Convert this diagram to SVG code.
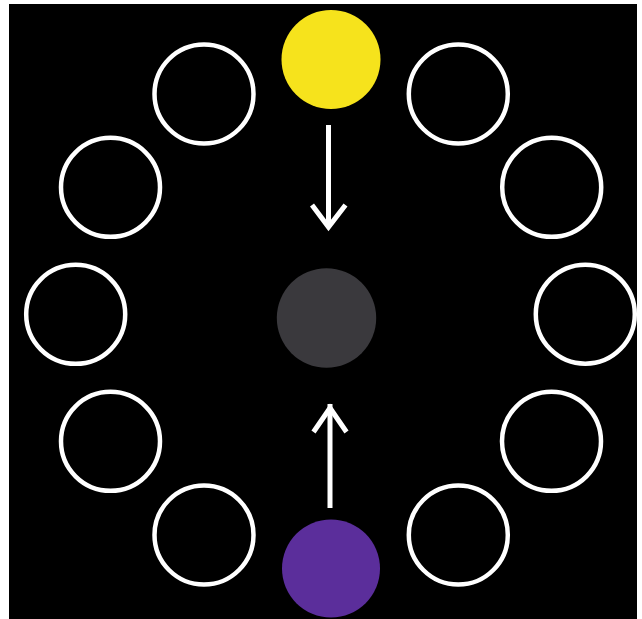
<svg xmlns="http://www.w3.org/2000/svg" width="642" height="619" viewBox="0 0 642 619">
  <style>
    .ring { fill: none; stroke: #ffffff; stroke-width: 4.5; }
    .conn { fill: none; stroke: #ffffff; stroke-width: 5; stroke-linecap: butt; }
    .head { fill: none; stroke: #ffffff; stroke-width: 5; stroke-linejoin: miter; }
  </style>
  <rect x="0" y="0" width="642" height="619" fill="#ffffff"/>
  <rect x="9" y="4" width="628" height="615" fill="#000000"/>

  <g id="ring-top-left"><circle class="ring" cx="204" cy="94" r="49.5"/></g>
  <g id="ring-upper-left"><circle class="ring" cx="110.5" cy="187.3" r="49.5"/></g>
  <g id="ring-left"><circle class="ring" cx="75.7" cy="314.3" r="49.5"/></g>
  <g id="ring-lower-left"><circle class="ring" cx="110.5" cy="441.3" r="49.5"/></g>
  <g id="ring-bottom-left"><circle class="ring" cx="204" cy="535" r="49.5"/></g>
  <g id="ring-top-right"><circle class="ring" cx="458.3" cy="94" r="49.5"/></g>
  <g id="ring-upper-right"><circle class="ring" cx="551.7" cy="187.3" r="49.5"/></g>
  <g id="ring-right"><circle class="ring" cx="585.3" cy="314.2" r="49.5"/></g>
  <g id="ring-lower-right"><circle class="ring" cx="551.5" cy="441.3" r="49.5"/></g>
  <g id="ring-bottom-right"><circle class="ring" cx="458.3" cy="535" r="49.5"/></g>

  <g id="yellow"><circle cx="331" cy="59.5" r="49.5" fill="#f6e31c"/></g>
  <g id="center"><circle cx="326.5" cy="318" r="49.7" fill="#3a393d"/></g>
  <g id="purple"><circle cx="331" cy="568.5" r="49" fill="#5b2e9b"/></g>

  <g id="connectors">
    <line class="conn" x1="328.5" y1="125" x2="328.5" y2="226"/>
    <polyline class="head" points="312,205 328.5,227 345.5,205"/>
    <line class="conn" x1="330" y1="508" x2="330" y2="404"/>
    <polyline class="head" points="313.5,432 330,408 346.5,432"/>
  </g>
</svg>
